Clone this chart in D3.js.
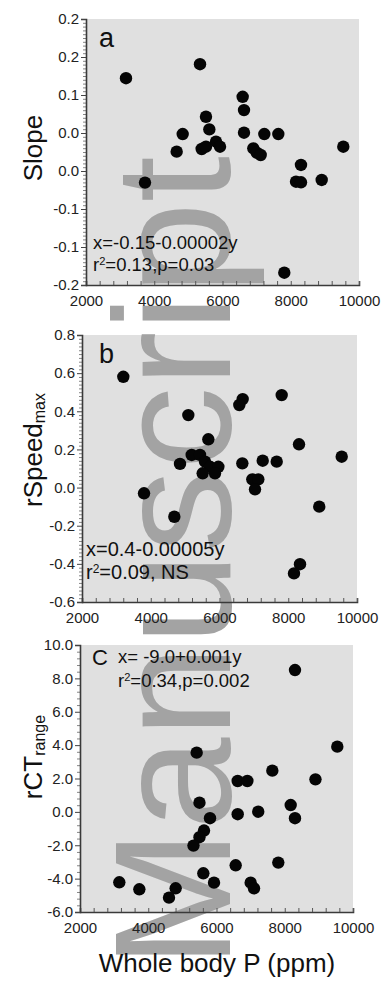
<!DOCTYPE html>
<html>
<head>
<meta charset="utf-8">
<script src="https://cdn.jsdelivr.net/npm/d3@7"></script>
<style>
  html, body { margin: 0; padding: 0; background: #fff; }
  svg { display: block; }
  text { font-family: "Liberation Sans", Arial, sans-serif; }
</style>
</head>
<body>
<svg id="chart" width="383" height="981"></svg>
<script>
// ---------------- DATA ----------------
const xTickValues = [2000, 4000, 6000, 8000, 10000];

// Panel a: Slope
const slopeP = [3172, 5341, 6591, 6630, 6630, 7225, 7636, 5516, 5614, 4833, 4657, 5390, 5516, 5810, 5927, 6903, 7002, 7119, 9540, 8300, 8154, 8300, 8907, 3729, 7811];
const slopeV = [0.111, 0.132, 0.083, 0.063, 0.029, 0.027, 0.027, 0.053, 0.034, 0.027, 0.0005, 0.0045, 0.008, 0.0155, 0.008, 0.0055, -0.001, -0.0045, 0.008, -0.0195, -0.0447, -0.0456, -0.042, -0.046, -0.1815];
const slopeTickLabels = ["0.2", "0.2", "0.1", "0.0", "0.0", "-0.1", "-0.1", "-0.2"];

// Panel b: rSpeed max
const speedP = [3202, 5093, 5675, 6675, 6577, 7809, 8313, 9555, 5191, 5433, 4851, 5578, 5724, 5966, 5869, 5511, 6664, 7257, 7664, 6954, 7129, 7033, 3804, 4686, 8902, 8342, 8167];
const speedV = [0.581, 0.380, 0.253, 0.464, 0.433, 0.485, 0.227, 0.162, 0.171, 0.171, 0.124, 0.136, 0.109, 0.109, 0.075, 0.075, 0.127, 0.141, 0.136, 0.043, 0.043, -0.009, -0.030, -0.153, -0.100, -0.402, -0.450];
const speedTickLabels = ["-0.6", "-0.4", "-0.2", "0.0", "0.2", "0.4", "0.6", "0.8"];

// Panel c: rCT range
const ctP = [8300, 9540, 5419, 7636, 8900, 6621, 6904, 5501, 8174, 8300, 6621, 7223, 5810, 5634, 5501, 5325, 5614, 5927, 6562, 7811, 7001, 7099, 3152, 3739, 4803, 4608];
const ctV = [8.50, 3.91, 3.55, 2.47, 1.95, 1.85, 1.85, 0.55, 0.41, -0.38, -0.14, 0.01, -0.38, -1.12, -1.52, -2.02, -3.68, -4.24, -3.20, -3.04, -4.24, -4.58, -4.22, -4.64, -4.58, -5.14];
const ctTickLabels = ["-6.0", "-4.0", "-2.0", "0.0", "2.0", "4.0", "6.0", "8.0", "10.0"];

// ---------------- LAYOUT ----------------
const svg = d3.select("#chart");
const bgLayer = svg.append("g");
const wmLayer = svg.append("g");
const fgLayer = svg.append("g");

const panels = [
  { letter: "a", left: 86, right: 359, top: 19, bottom: 285,
    yDomain: [-0.2, 0.2], yTicks: d3.range(8).map(i => -0.2 + i * 0.4 / 7), yLabels: slopeTickLabels.slice().reverse(),
    minorPer: 10, px: slopeP, vy: slopeV,
    eq1: "x=-0.15-0.00002y", eq2r: "=0.13,p=0.03", eqX: 93, eqY: 249, eqDy: 22, eqFs: 18.5,
    yTitle: "Slope", ySub: null, yTitleY: 148, letterX: 99, letterY: 47, letterFs: 27 },
  { letter: "b", left: 82, right: 357, top: 335, bottom: 602,
    yDomain: [-0.6, 0.8], yTicks: d3.range(8).map(i => -0.6 + i * 0.2), yLabels: speedTickLabels,
    minorPer: 10, px: speedP, vy: speedV,
    eq1: "x=0.4-0.00005y", eq2r: "=0.09, NS", eqX: 86, eqY: 556, eqDy: 23, eqFs: 20,
    yTitle: "rSpeed", ySub: "max", yTitleY: 450, letterX: 99, letterY: 363, letterFs: 27 },
  { letter: "C", left: 80, right: 353, top: 645, bottom: 912,
    yDomain: [-6, 10], yTicks: d3.range(9).map(i => -6 + i * 2), yLabels: ctTickLabels,
    minorPer: 5, px: ctP, vy: ctV,
    eq1: "x= -9.0+0.001y", eq2r: "=0.34,p=0.002", eqX: 118, eqY: 663, eqDy: 24, eqFs: 18.5,
    yTitle: "rCT", ySub: "range", yTitleY: 757, letterX: 92, letterY: 665, letterFs: 22 }
];

panels.forEach(p => {
  const x = d3.scaleLinear().domain([2000, 10000]).range([p.left, p.right]);
  const y = d3.scaleLinear().domain(p.yDomain).range([p.bottom, p.top]);

  bgLayer.append("rect")
    .attr("x", p.left).attr("y", p.top)
    .attr("width", p.right - p.left).attr("height", p.bottom - p.top)
    .attr("fill", "#e0e0e0");

  const g = fgLayer.append("g");

  // x ticks (inward)
  const gx = g.append("g").attr("transform", `translate(0,${p.bottom})`)
    .call(d3.axisBottom(x).tickValues(d3.range(2000, 10001, 400)).tickSize(-4).tickFormat(""));
  gx.select(".domain").attr("stroke", "#3a3a3a").attr("stroke-width", 1.6);
  gx.selectAll(".tick line").attr("stroke", "#555").attr("stroke-width", 1);

  const gxl = g.append("g").attr("transform", `translate(0,${p.bottom})`)
    .call(d3.axisBottom(x).tickValues(xTickValues).tickSize(0).tickPadding(10).tickFormat(d3.format("d")));
  gxl.select(".domain").remove();
  gxl.selectAll(".tick text").attr("font-size", 15).attr("fill", "#222")
    .attr("font-family", "'Liberation Sans', Arial, sans-serif");

  // y minor ticks (outward)
  const step = p.yTicks[1] - p.yTicks[0];
  const minorVals = [];
  for (let i = 0; i < p.yTicks.length - 1; i++) {
    for (let k = 1; k < p.minorPer; k++) minorVals.push(p.yTicks[i] + step * k / p.minorPer);
  }
  const gyMinor = g.append("g").attr("transform", `translate(${p.left},0)`)
    .call(d3.axisLeft(y).tickValues(minorVals).tickSize(3).tickFormat(""));
  gyMinor.select(".domain").remove();
  gyMinor.selectAll(".tick line").attr("stroke", "#666").attr("stroke-width", 0.8);

  const gy = g.append("g").attr("transform", `translate(${p.left},0)`)
    .call(d3.axisLeft(y).tickValues(p.yTicks).tickSize(5).tickPadding(2)
      .tickFormat((d, i) => p.yLabels[i]));
  gy.select(".domain").attr("stroke", "#3a3a3a").attr("stroke-width", 1.6);
  gy.selectAll(".tick line").attr("stroke", "#444").attr("stroke-width", 1);
  gy.selectAll(".tick text").attr("font-size", 15).attr("fill", "#222")
    .attr("font-family", "'Liberation Sans', Arial, sans-serif");

  // points
  g.append("g").selectAll("circle")
    .data(p.px.map((v, i) => [v, p.vy[i]]))
    .join("circle")
    .attr("cx", d => x(d[0])).attr("cy", d => y(d[1]))
    .attr("r", 6.2).attr("fill", "#050505");

  // panel letter
  g.append("text").attr("x", p.letterX).attr("y", p.letterY)
    .attr("font-size", p.letterFs).attr("fill", "#111").text(p.letter);

  // equation
  g.append("text").attr("x", p.eqX).attr("y", p.eqY)
    .attr("font-size", p.eqFs).attr("fill", "#111").text(p.eq1);
  const t2 = g.append("text").attr("x", p.eqX).attr("y", p.eqY + p.eqDy)
    .attr("font-size", p.eqFs).attr("fill", "#111");
  t2.append("tspan").text("r");
  t2.append("tspan").attr("font-size", p.eqFs * 0.6).attr("dy", -6).text("2");
  t2.append("tspan").attr("dy", 6).text(p.eq2r);

  // y title
  const yt = g.append("text")
    .attr("transform", `translate(42,${p.yTitleY}) rotate(-90)`)
    .attr("text-anchor", "middle").attr("font-size", 26).attr("fill", "#111");
  yt.append("tspan").text(p.yTitle);
  if (p.ySub) yt.append("tspan").attr("font-size", 16).attr("dy", 3).text(p.ySub);
});

// x title
fgLayer.append("text").attr("x", 217).attr("y", 972)
  .attr("text-anchor", "middle").attr("font-size", 26).attr("fill", "#111")
  .text("Whole body P (ppm)");

// watermark
wmLayer.append("text")
  .attr("transform", "translate(230,968) rotate(-90)")
  .attr("font-size", 166).attr("fill", "#a3a3a3")
  .text("Manuscript");
</script>
</body>
</html>
